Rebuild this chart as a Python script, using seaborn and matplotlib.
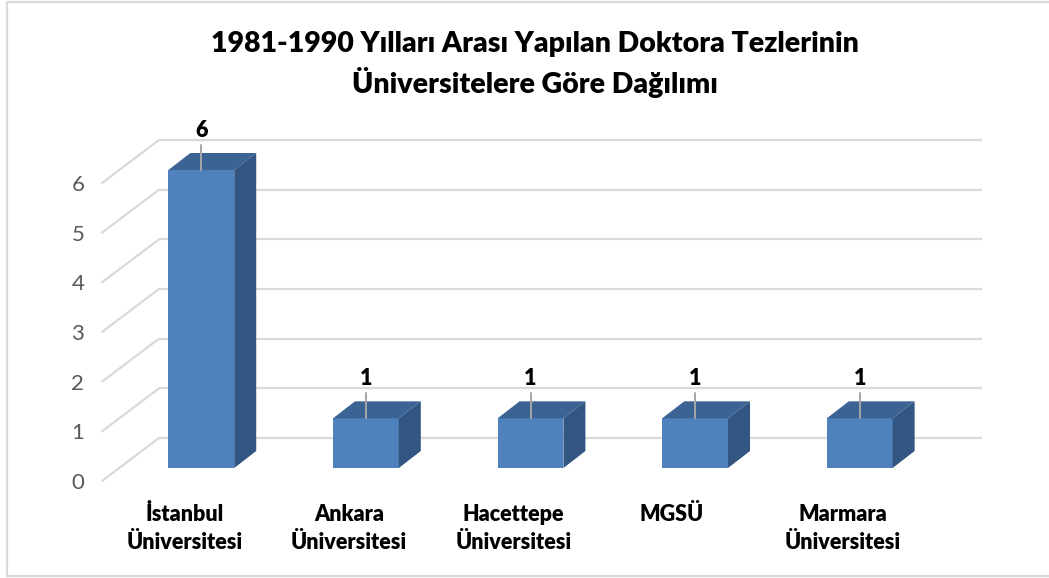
import matplotlib
matplotlib.use("Agg")
import matplotlib.pyplot as plt
import seaborn as sns
from matplotlib.lines import Line2D
from matplotlib.patches import Polygon
from matplotlib.transforms import ScaledTranslation

universities = ["İstanbul\nÜniversitesi", "Ankara\nÜniversitesi", "Hacettepe\nÜniversitesi",
                "MGSÜ", "Marmara\nÜniversitesi"]
thesis_counts = [6, 1, 1, 1, 1]
y_ticks = [0, 1, 2, 3, 4, 5, 6]
title = "1981-1990 Yılları Arası Yapılan Doktora Tezlerinin\nÜniversitelere Göre Dağılımı"

W, H = 1049, 578
BAR_COLOR = "#4f81bd"
TOP_COLOR = "#3b6494"
SIDE_COLOR = "#325582"
GRID_COLOR = "#d9d9d9"
HEAVY = 800

sns.set_theme(style="white")
plt.rcParams["font.family"] = ["Lato", "DejaVu Sans"]

fig = plt.figure(figsize=(W / 100, H / 100), dpi=100)
# axes is the plane of the bar fronts, in pixels of the picture
ax = fig.add_axes([119 / W, 1 - 468 / H, 823 / W, 298 / H])
sns.barplot(x=universities, y=thesis_counts, color=BAR_COLOR, saturation=1, width=0.4, ax=ax,
            zorder=3, linewidth=0)
ax.set_xlim(-0.5, 4.5)
ax.set_ylim(0, 6)
sns.despine(ax=ax, left=True, bottom=True)

px = 5 / 823
py = 6 / 298

# back wall gridlines and the slanted floor/side lines
for v in y_ticks:
    ax.plot([-0.5 + 40 * px, 4.5 + 40 * px], [v + 30 * py, v + 30 * py], color=GRID_COLOR,
            lw=1.6, clip_on=False, zorder=1, solid_capstyle="butt")
    ax.plot([-0.5 - 17 * px, -0.5 + 40 * px], [v - 13 * py, v + 30 * py], color=GRID_COLOR,
            lw=1.6, clip_on=False, zorder=1)

# depth of the boxes, leader lines and value labels
dx = 22 * px
dy = 17 * py
for bar, value in zip(ax.patches, thesis_counts):
    x0 = bar.get_x()
    x1 = x0 + bar.get_width()
    top = bar.get_height()
    ax.add_patch(Polygon([(x0, top), (x1, top), (x1 + dx, top + dy), (x0 + dx, top + dy)],
                         color=TOP_COLOR, lw=0, clip_on=False, zorder=3))
    ax.add_patch(Polygon([(x1, 0), (x1 + dx, dy), (x1 + dx, top + dy), (x1, top)],
                         color=SIDE_COLOR, lw=0, clip_on=False, zorder=3))
    bar.set_clip_on(False)
    xc = (x0 + x1) / 2
    ax.plot([xc, xc], [top, top + 25 * py], color="#a6a6a6", lw=1.4, clip_on=False, zorder=4)
    ax.text(xc, top + 40 * py, str(value), ha="center", va="center", fontsize=15.5,
            fontweight=HEAVY, color="black", clip_on=False)

ax.set_yticks(y_ticks)
ax.set_yticklabels([str(v) for v in y_ticks], fontsize=16, color="#595959")
ax.tick_params(axis="y", length=0, pad=25)
for label in ax.get_yticklabels():
    label.set_transform(label.get_transform() + ScaledTranslation(0, -13 / 100, fig.dpi_scale_trans))

ax.set_xticks(range(len(universities)))
ax.set_xticklabels(universities, fontsize=15.5, fontweight=HEAVY, color="black", linespacing=1.42)
ax.tick_params(axis="x", length=0, pad=25.7)
for label, text in zip(ax.get_xticklabels(), universities):
    shift = -23 if text == "MGSÜ" else -17
    label.set_transform(label.get_transform() + ScaledTranslation(shift / 100, 0, fig.dpi_scale_trans))

fig.text(535 / W, 1 - 64.5 / H, title, ha="center", va="center", fontsize=20.5, fontweight=HEAVY,
         color="black", linespacing=1.35)

# chart frame: left, top and bottom edges only
frame_x = [1, 7 / W, 7 / W, 1]
frame_y = [1 - 1.5 / H, 1 - 1.5 / H, 1 - 576 / H, 1 - 576 / H]
fig.add_artist(Line2D(frame_x, frame_y, transform=fig.transFigure, color=GRID_COLOR, lw=1.6))

fig.savefig("out.png", dpi=100)
